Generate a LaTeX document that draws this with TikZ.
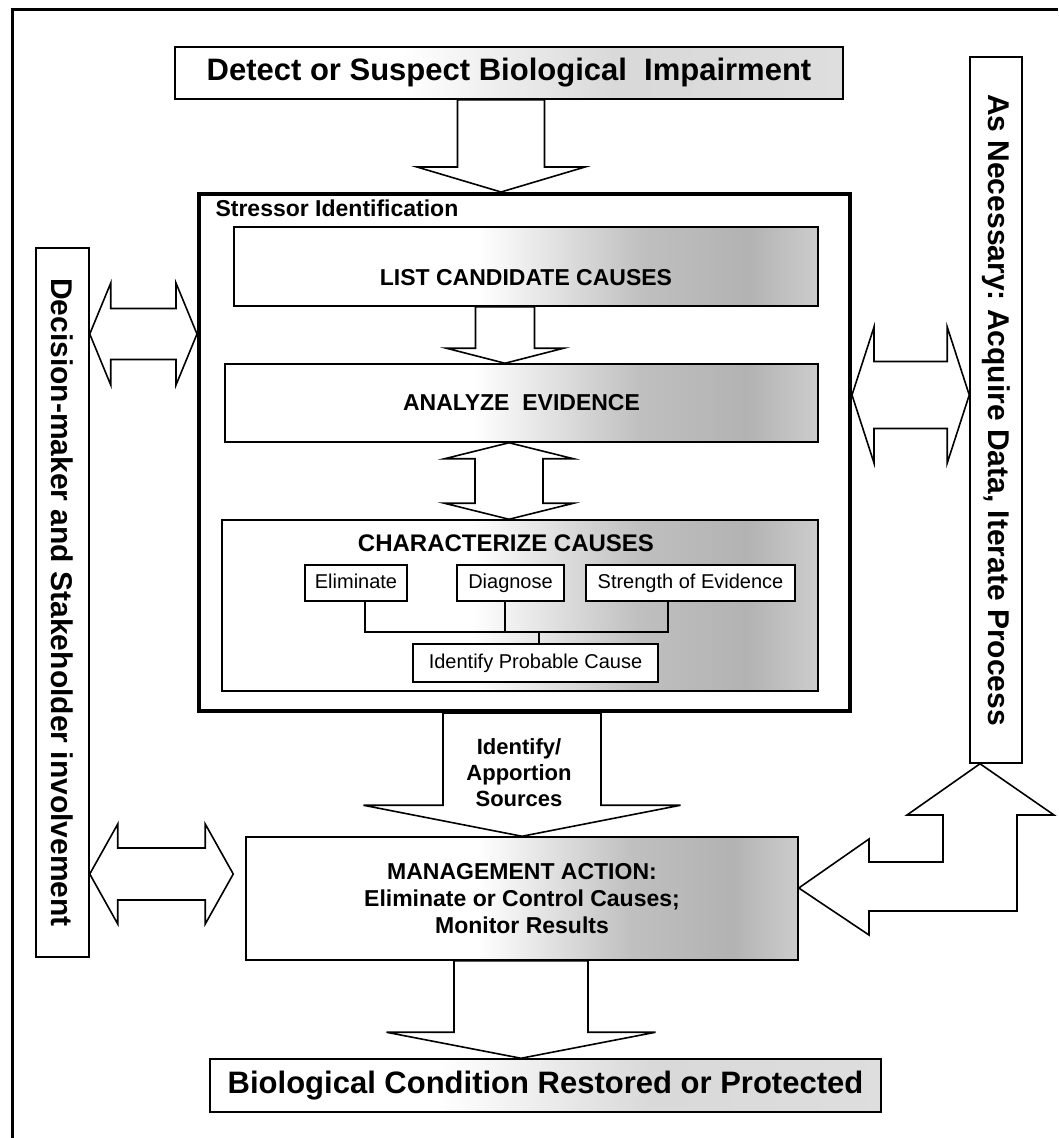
\documentclass[tikz,border=0pt]{standalone}
\usepackage{fontspec}
\setmainfont{Liberation Sans}
\usetikzlibrary{calc}

% grey speckle of the boxes, darker towards the right
\pgfdeclarehorizontalshading{speckdark}{100bp}{color(0bp)=(white); color(25bp)=(white); color(46bp)=(white); color(60bp)=(black!25); color(69bp)=(black!30); color(75bp)=(black!20); color(100bp)=(black!20)}
\pgfdeclarehorizontalshading{specklight}{100bp}{color(0bp)=(white); color(25bp)=(white); color(42bp)=(white); color(58bp)=(black!15); color(75bp)=(black!13); color(100bp)=(black!13)}

% block arrows between two nodes
\newcommand{\blockdown}[6]{% from, to, x centre, shaft half, head half, head length
  \draw[blockarrow] (#3-#4,0 |- #1.south)
    -- ([yshift=#6pt]#3-#4,0 |- #2.north) -- ([yshift=#6pt]#3-#5,0 |- #2.north)
    -- (#3,0 |- #2.north)
    -- ([yshift=#6pt]#3+#5,0 |- #2.north) -- ([yshift=#6pt]#3+#4,0 |- #2.north)
    -- (#3+#4,0 |- #1.south) -- cycle;}
\newcommand{\blockupdown}[6]{% top, bottom, x centre, shaft half, head half, head length
  \draw[blockarrow] (#3,0 |- #1.south)
    -- ([yshift=-#6pt]#3+#5,0 |- #1.south) -- ([yshift=-#6pt]#3+#4,0 |- #1.south)
    -- ([yshift=#6pt]#3+#4,0 |- #2.north) -- ([yshift=#6pt]#3+#5,0 |- #2.north)
    -- (#3,0 |- #2.north)
    -- ([yshift=#6pt]#3-#5,0 |- #2.north) -- ([yshift=#6pt]#3-#4,0 |- #2.north)
    -- ([yshift=-#6pt]#3-#4,0 |- #1.south) -- ([yshift=-#6pt]#3-#5,0 |- #1.south) -- cycle;}
\newcommand{\blockleftright}[6]{% left end, right end, y centre, shaft half, head half, head length
  \draw[blockarrow] (#1 |- 0,#3)
    -- ([xshift=#6pt]#1 |- 0,#3-#5) -- ([xshift=#6pt]#1 |- 0,#3-#4)
    -- ([xshift=-#6pt]#2 |- 0,#3-#4) -- ([xshift=-#6pt]#2 |- 0,#3-#5)
    -- (#2 |- 0,#3)
    -- ([xshift=-#6pt]#2 |- 0,#3+#5) -- ([xshift=-#6pt]#2 |- 0,#3+#4)
    -- ([xshift=#6pt]#1 |- 0,#3+#4) -- ([xshift=#6pt]#1 |- 0,#3+#5) -- cycle;}

\begin{document}
\begin{tikzpicture}[
    x=1pt, y=-1pt, % pixel grid of the page, y going down
    stage/.style={draw, line width=1.5pt, inner sep=0pt, align=center}, % plain box
    bigtext/.style={font=\fontsize{31}{36}\selectfont\bfseries},
    sidetext/.style={font=\fontsize{30}{36}\selectfont\bfseries},
    midtext/.style={font=\fontsize{23}{27}\selectfont\bfseries},
    smalltext/.style={font=\fontsize{20}{24}\selectfont},
    darkstage/.style={stage, shade, shading=speckdark}, % speckled box
    lightstage/.style={stage, shade, shading=specklight},
    substage/.style={stage, fill=white, smalltext, text height=14pt, text depth=4pt}, % small white box
    blockarrow/.style={draw, line width=1.6pt, fill=white, line join=miter}
]
    \useasboundingbox (0,0) rectangle (1058,1138);

    % outer frame
    \draw[line width=3pt] (12,1138) -- (12,9) -- (1058,9);

    % top and bottom boxes
    \node[lightstage, bigtext, minimum width=668pt, minimum height=52pt] (detect) at (509,73) {Detect or Suspect Biological\ \ Impairment};
    \node[lightstage, bigtext, minimum width=671pt, minimum height=53pt] (restored) at (545.5,1085.5) {Biological Condition Restored or Protected};

    % side boxes
    \node[stage, sidetext, minimum width=53pt, minimum height=709pt] (stakeholders) at (62.5,602.5) {\rotatebox{-90}{Decision-maker and Stakeholder involvement}};
    \node[stage, sidetext, minimum width=52pt, minimum height=706pt] (acquire) at (996,410) {\rotatebox{-90}{As Necessary:\ Acquire Data, Iterate Process}};

    % stressor identification frame and its steps
    \node[draw, line width=4pt, fill=white, minimum width=651pt, minimum height=517pt] (stressor) at (524.5,452.5) {};
    \node[anchor=base west, font=\fontsize{23}{26}\selectfont\bfseries] (stressorlabel) at (212,216) {Stressor Identification};
    \node[darkstage, minimum width=584pt, minimum height=79pt] (list) at (526,266.5) {};
    \node[midtext] (listlabel) at (526,278) {LIST CANDIDATE CAUSES};
    \node[darkstage, midtext, minimum width=593pt, minimum height=78pt] (analyze) at (521.5,403) {ANALYZE\ \ EVIDENCE};
    \node[darkstage, minimum width=596pt, minimum height=171pt] (characterize) at (520,605.5) {};
    \node[font=\fontsize{24}{26}\selectfont\bfseries] (charlabel) at (506,543) {CHARACTERIZE CAUSES};

    % the three kinds of inference
    \node[substage, minimum width=102pt, minimum height=36pt] (eliminate) at (356,583) {Eliminate};
    \node[substage, minimum width=107pt, minimum height=36pt] (diagnose) at (510.5,583) {Diagnose};
    \node[substage, minimum width=209pt, minimum height=36pt] (strength) at (690.5,583) {Strength of Evidence};
    \node[substage, minimum width=245pt, minimum height=38pt] (probable) at (535.5,663) {Identify Probable Cause};
    \draw[line width=1.5pt] ([xshift=9pt]eliminate.south) |- (668,632) -- ([xshift=-22.5pt]strength.south);
    \draw[line width=1.5pt] ([xshift=-5.5pt]diagnose.south) -- ++(0,31);
    \draw[line width=1.5pt] (539,632) -- ([xshift=3.5pt]probable.north);

    % management box
    \node[darkstage, midtext, minimum width=552pt, minimum height=123pt] (manage) at (522,898.5) {MANAGEMENT ACTION:\\Eliminate or Control Causes;\\Monitor Results};
    \coordinate (manageport) at ([xshift=-12pt]manage.west);

    % block arrows
    \blockdown{detect}{stressor}{501}{43.5}{84}{25}
    \blockdown{list}{analyze}{505}{29.5}{58.5}{15}
    \blockupdown{analyze}{characterize}{509}{34}{64.5}{16}
    \blockdown{stressor}{manage}{522}{79}{158.5}{31}
    \blockdown{manage}{restored}{521}{67}{134.5}{26}
    \blockleftright{stakeholders.east}{stressor.west}{334}{25.5}{51}{21}
    \blockleftright{stakeholders.east}{manageport}{874}{26}{50}{28}
    \blockleftright{stressor.east}{acquire.west}{395}{33.5}{68}{22}
    \draw[blockarrow] (manage.east |- 0,888) -- (869,839) -- (869,862) -- (943,862) -- (943,815)
        -- (907,815) -- (acquire.south -| 980,0) -- (1054,815) -- (1017,815) -- (1017,911)
        -- (869,911) -- (869,935) -- cycle;

    % label in the shaft of the arrow
    \node[align=center, font=\fontsize{22}{26}\selectfont\bfseries] (sources) at (519,773) {Identify/\\Apportion\\Sources};
\end{tikzpicture}
\end{document}
